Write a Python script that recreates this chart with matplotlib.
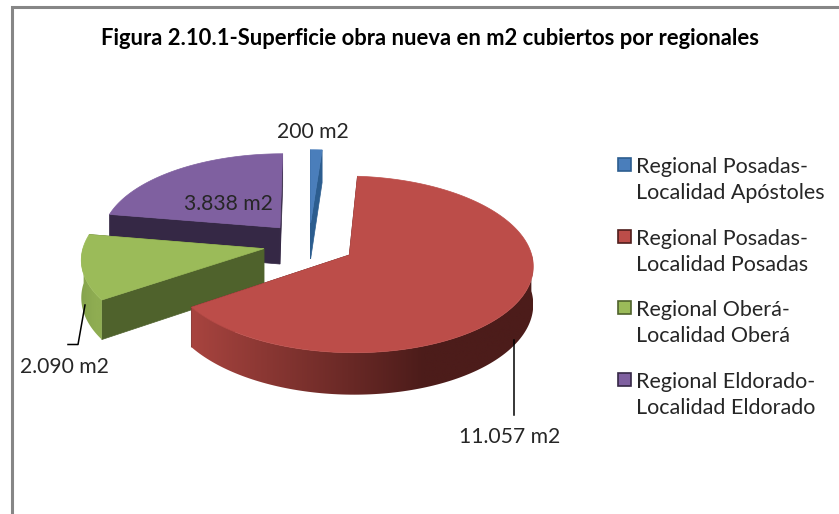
import numpy as np
import matplotlib
matplotlib.use('Agg')
import matplotlib.pyplot as plt
from matplotlib.colors import to_rgb
from matplotlib.patches import Polygon, Rectangle

# Data
regionales = ['Regional Posadas-\nLocalidad Apóstoles', 'Regional Posadas-\nLocalidad Posadas',
              'Regional Oberá-\nLocalidad Oberá', 'Regional Eldorado-\nLocalidad Eldorado']
superficie = [200, 11057, 2090, 3838]
etiquetas = ['200 m2', '11.057 m2', '2.090 m2', '3.838 m2']
titulo = 'Figura 2.10.1-Superficie obra nueva en m2 cubiertos por regionales'

# Colours: top face, cut face, curved side (left end, right end)
col_top = ['#4a7ebb', '#bc4d49', '#9bbb59', '#7f60a0']
col_corte = ['#2c5d8f', '#4f1e1c', '#4f622c', '#352845']
col_curva_a = ['#2c5d8f', '#a8443f', '#86a44d', '#352845']
col_curva_b = ['#2c5d8f', '#4c1c1a', '#8fad52', '#352845']

# Pie geometry in pixels
CX, CY = 309, 244
A, B = 180, 85
K = 0.105
EXPL = 0.255
PROF = 37


def proy(x, y):
    s = 1 / (1 + K * y)
    return CX + A * x * s, CY - B * y * s, PROF * s


fig = plt.figure(figsize=(8.39, 5.14), dpi=100)
ax = fig.add_axes([0, 0, 1, 1])
plt.rcParams['font.family'] = ['Lato', 'DejaVu Sans']

# chart frame, only left and top edges are in the crop
ax.plot([11.5, 11.5, 839], [514, 6.5, 6.5], color='#868686', lw=2.2, solid_joinstyle='miter')

ang = np.cumsum([0] + superficie) / sum(superficie) * 360

# back to front: blue, purple, green, red
z = 2
for i in [0, 3, 2, 1]:
    t0, t1 = ang[i], ang[i + 1]
    medio = np.radians((t0 + t1) / 2)
    ox, oy = EXPL * np.sin(medio), EXPL * np.cos(medio)
    t = np.radians(np.linspace(t0, t1, 200))
    X, Y, D = proy(ox + np.sin(t), oy + np.cos(t))
    x0, y0, d0 = proy(ox, oy)

    # the two cut faces
    for k in [0, -1]:
        ax.fill([x0, X[k], X[k], x0], [y0, Y[k], Y[k] + D[k], y0 + d0], color=col_corte[i], lw=0.5, zorder=z)

    # curved side, only the part that faces the viewer, shaded left to right
    frente = np.where(np.cos(t) < 0.03)[0]
    if len(frente) > 1:
        xf, yf, df = X[frente], Y[frente], D[frente]
        lado = Polygon(np.c_[np.r_[xf, xf[::-1]], np.r_[yf, (yf + df)[::-1]]], closed=True,
                       facecolor='none', edgecolor='none', zorder=z)
        ax.add_patch(lado)
        f = np.clip(np.linspace(0, 1, 256) / 0.68, 0, 1)[None, :, None]
        ca, cb = np.array(to_rgb(col_curva_a[i])), np.array(to_rgb(col_curva_b[i]))
        grad = ca + (cb - ca) * f
        im = ax.imshow(grad, extent=[xf.min(), xf.max(), (yf + df).max(), yf.min()], aspect='auto',
                       interpolation='bilinear', zorder=z + 1)
        im.set_clip_path(lado)

    ax.fill(np.r_[x0, X], np.r_[y0, Y], color=col_top[i], lw=0.5, zorder=z + 2)
    z += 3

# leader lines
ax.plot([85, 78, 68], [305, 344.5, 344.5], color='black', lw=1.1, zorder=20)
ax.plot([514, 514], [340, 415], color='black', lw=1.1, zorder=20)

ax.text(430, 38.5, titulo, ha='center', va='center', fontsize=15.8, fontweight='bold', color='black')

pos_etq = [(313, 132), (510, 437), (64, 367), (228, 204)]
for txt, (px, py) in zip(etiquetas, pos_etq):
    ax.text(px, py, txt, ha='center', va='center', fontsize=15.2, color='#262626', zorder=21)

# legend
for i, txt in enumerate(regionales):
    yy = 164.5 + i * 71.7
    ax.add_patch(Rectangle((618, yy - 6.5), 13, 13, facecolor=col_top[i], edgecolor=col_corte[i], lw=1.2))
    ax.text(636, yy + 15.5, txt, ha='left', va='center', fontsize=15.5, color='#262626', linespacing=1.38)

ax.set_xlim(0, 839)
ax.set_ylim(514, 0)
ax.axis('off')
fig.savefig('out.png', dpi=100)
